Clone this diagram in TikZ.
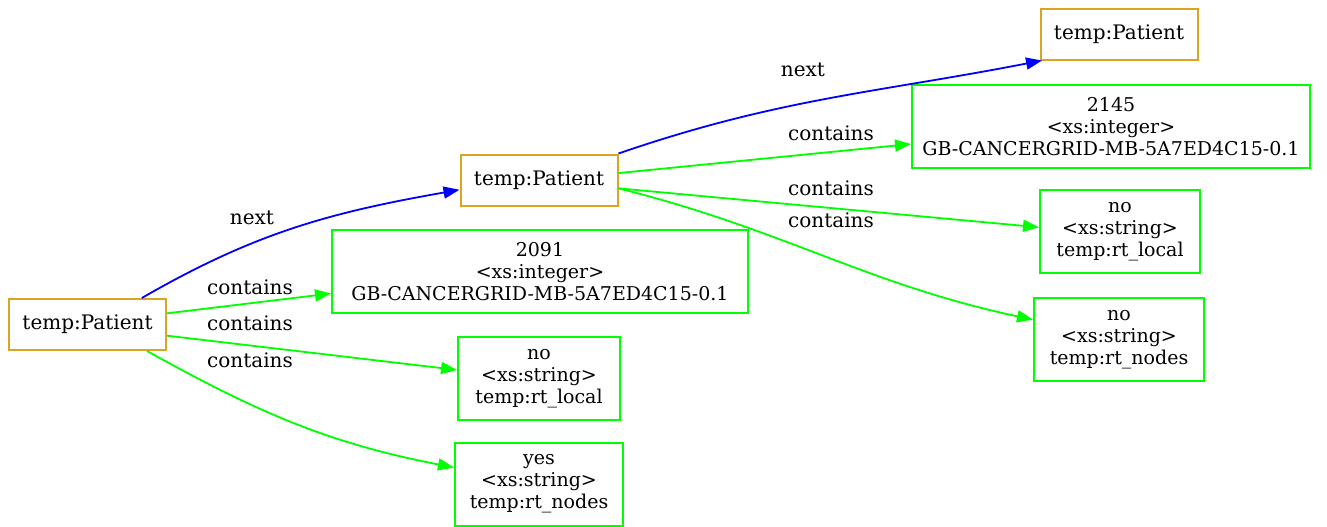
\documentclass[tikz,border=0pt]{standalone}
\usepackage{fontspec}
\setmainfont{DejaVu Serif}
\usetikzlibrary{arrows.meta}

\definecolor{goldenrod}{RGB}{218,165,32}
\definecolor{lime}{RGB}{0,255,0}

\tikzset{
  patient/.style={draw=goldenrod, line width=1pt, minimum width=78.5pt, minimum height=25.5pt, inner sep=0pt},
  literal/.style={draw=lime, line width=1pt, align=center, minimum height=41.5pt, inner sep=0pt, font=\fontsize{9.5}{11}\selectfont},
  nextedge/.style={draw=blue, line width=0.9pt, -{Triangle[length=8pt,width=6pt]}},
  containsedge/.style={draw=lime, line width=0.9pt, -{Triangle[length=8pt,width=6pt]}},
  edgelabel/.style={inner sep=0pt}
}

\begin{document}
\begin{tikzpicture}[x=0.5pt,y=-0.5pt,font=\fontsize{10}{11}\selectfont]
\useasboundingbox (0,0) rectangle (1327,526);

\node[patient] (patient0) at (87.5,324.5) {temp:Patient};
\node[patient] (patient1) at (539,180) {temp:Patient};
\node[patient] (patient2) at (1119,34) {temp:Patient};

\node[literal,minimum width=208pt] (int1) at (540,271.5) {2091\\<xs:integer>\\GB-CANCERGRID-MB-5A7ED4C15-0.1};
\node[literal,minimum width=81pt] (local1) at (539,378.5) {no\\<xs:string>\\temp:rt\_local};
\node[literal,minimum width=84pt] (nodes1) at (539,484) {yes\\<xs:string>\\temp:rt\_nodes};

\node[literal,minimum width=199pt] (int2) at (1111,126.5) {2145\\<xs:integer>\\GB-CANCERGRID-MB-5A7ED4C15-0.1};
\node[literal,minimum width=80pt] (local2) at (1120,231.5) {no\\<xs:string>\\temp:rt\_local};
\node[literal,minimum width=85pt] (nodes2) at (1119,339.5) {no\\<xs:string>\\temp:rt\_nodes};

% labels
\node[edgelabel] (next0) at (252,218) {next};
\node[edgelabel] (contains01) at (250,287) {contains};
\node[edgelabel] (contains02) at (250,323) {contains};
\node[edgelabel] (contains03) at (250,360) {contains};
\node[edgelabel] (next1) at (803,70) {next};
\node[edgelabel] (contains11) at (831,133) {contains};
\node[edgelabel] (contains12) at (831,188) {contains};
\node[edgelabel] (contains13) at (831,220) {contains};

% edges
\draw[nextedge] (patient0.26) to[out=30,in=190] (patient1.187);
\draw[containsedge] (patient0.8) -- (int1.186);
\draw[containsedge] (patient0.-8) -- (local1.174);
\draw[containsedge] (patient0.-24) to[out=-29,in=169] (nodes1.169);

\draw[nextedge] (patient1.north east) to[out=19,in=191] (patient2.199);
\draw[containsedge] (patient1.5) -- (int2.185);
\draw[containsedge] (patient1.-6) -- (local2.177);
\draw[containsedge] (patient1.-6) to[out=-14,in=168] (nodes2.167);
\end{tikzpicture}
\end{document}
